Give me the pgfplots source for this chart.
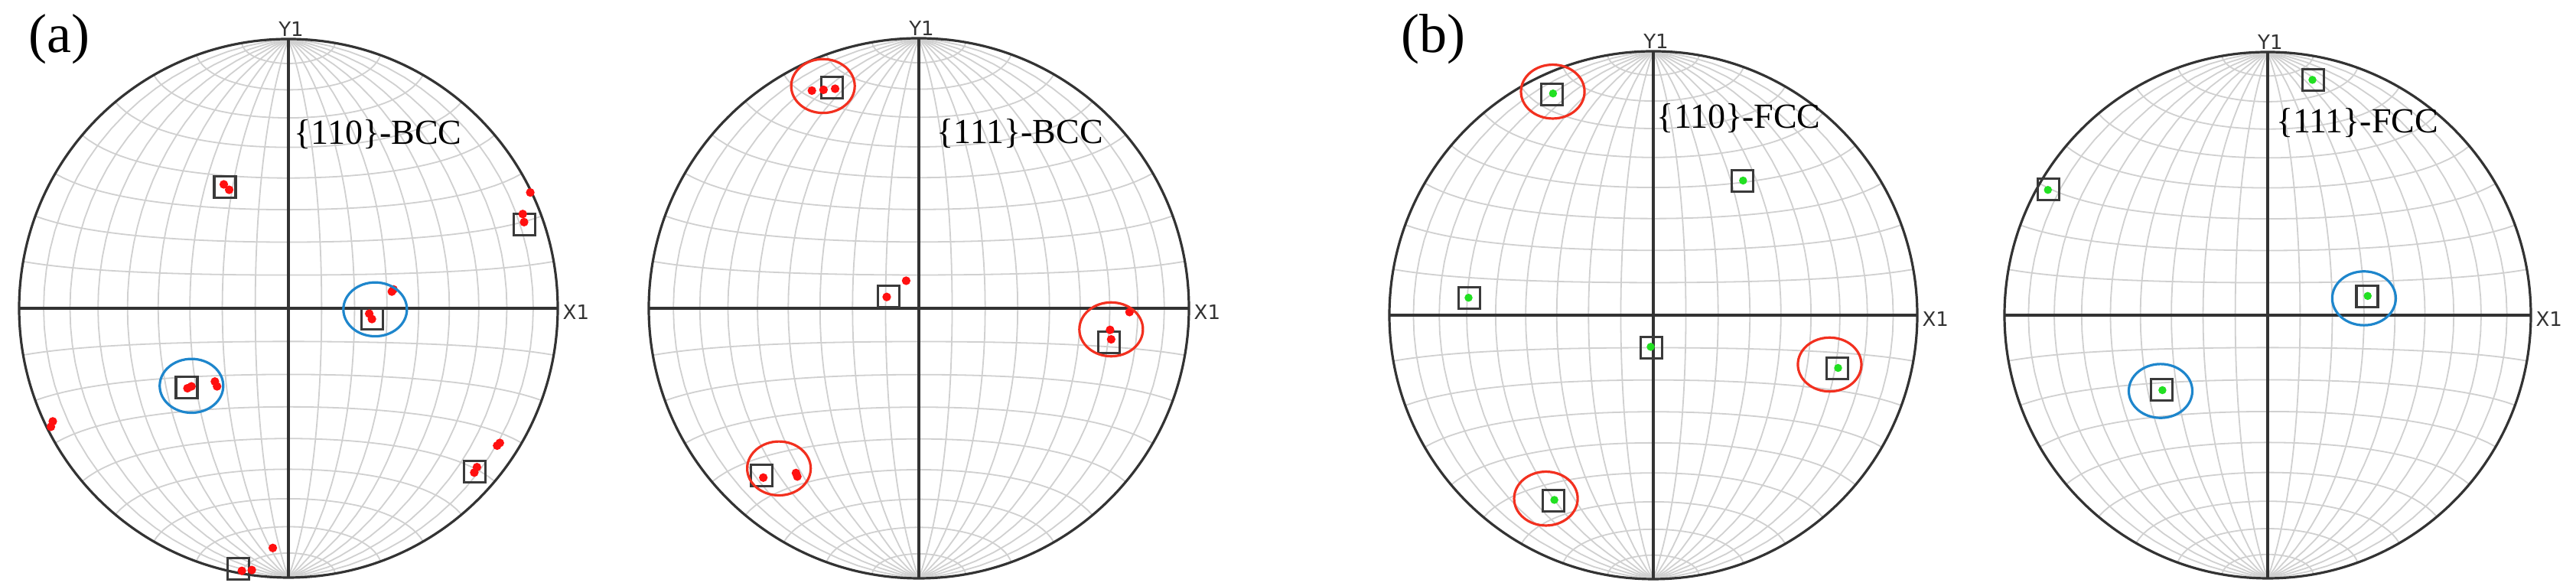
\documentclass[border=0pt]{standalone}
\usepackage{pgfplots}
\pgfplotsset{compat=1.18}
\usepackage{fontspec}
\setmainfont{Liberation Serif}
\newfontfamily\labfont{DejaVu Sans}
\definecolor{gridc}{HTML}{D0D0D0}
\definecolor{axc}{HTML}{333333}
\definecolor{sqc}{HTML}{3A3A3A}
\definecolor{ellred}{HTML}{F2301F}
\definecolor{ellblue}{HTML}{1E86CC}
\definecolor{spotred}{HTML}{FF1010}
\definecolor{spotgreen}{HTML}{22E022}

\pgfplotsset{
  pf/.style={hide axis, clip=false, xmin=-1, xmax=1, ymin=-1, ymax=1, anchor=center},
  sq/.style={only marks, mark=square, mark size=3.5pt, mark options={draw=sqc, line width=0.8pt, fill=none}},
  spotr/.style={only marks, mark=*, mark size=1.2pt, mark options={draw=spotred, fill=spotred}},
  spotg/.style={only marks, mark=*, mark size=1.1pt, mark options={draw=spotgreen, fill=spotgreen}},
  ellr/.style={only marks, mark=o, mark size=8.8pt, mark options={draw=ellred, line width=0.8pt, xscale=1.18}},
  ellb/.style={only marks, mark=o, mark size=8.8pt, mark options={draw=ellblue, line width=0.8pt, xscale=1.18}},
}

% equal-area (Schmidt) net, 10 degree spacing
\newcommand{\schmidtnet}{%
  \pgfplotsinvokeforeach{-80,-70,...,80}{%
    \addplot[gridc, line width=0.45pt, domain=-90:90, samples=41, variable=\t]
      ({cos(\t)*sin(##1)/sqrt(1+cos(\t)*cos(##1))},{sin(\t)/sqrt(1+cos(\t)*cos(##1))});
    \addplot[gridc, line width=0.45pt, domain=-90:90, samples=41, variable=\t]
      ({cos(##1)*sin(\t)/sqrt(1+cos(##1)*cos(\t))},{sin(##1)/sqrt(1+cos(##1)*cos(\t))});
  }%
  \addplot[axc, line width=0.8pt] coordinates {(-1,0) (1,0)};
  \addplot[axc, line width=0.8pt] coordinates {(0,-1) (0,1)};
  \draw[axc, line width=0.8pt] (axis cs:0,0) circle[radius=1];
  \node[anchor=south, font=\labfont\fontsize{6.5}{7}\selectfont, text=axc, inner sep=0.6pt] at (axis cs:0.01,1.0) {Y1};
  \node[anchor=west, font=\labfont\fontsize{6.5}{7}\selectfont, text=axc, inner sep=0.6pt] at (axis cs:1.01,-0.015) {X1};
}

\begin{document}
\begin{tikzpicture}
\useasboundingbox (0,0) rectangle (841.75pt,191.5pt);

% ---------- (a) {110}-BCC ----------
\begin{axis}[pf, x=88pt, y=88pt, at={(94.25pt,90.75pt)}]
\schmidtnet
\addplot[sq] coordinates {(-0.236,0.450) (0.876,0.312) (0.310,-0.039) (-0.378,-0.295) (0.691,-0.607) (-0.186,-0.967)};
\addplot[spotr] coordinates {(-0.24,0.46) (-0.22,0.44) (0.875,0.32) (0.87,0.35) (0.898,0.43)
  (0.31,-0.04) (0.30,-0.02) (0.384,0.062) (0.39,0.07)
  (-0.375,-0.297) (-0.36,-0.29) (-0.273,-0.272) (-0.265,-0.29)
  (0.69,-0.61) (0.70,-0.59) (0.775,-0.51) (0.785,-0.50)
  (-0.173,-0.975) (-0.136,-0.972) (-0.058,-0.89) (-0.882,-0.44) (-0.875,-0.42)};
\addplot[ellb] coordinates {(0.322,-0.004) (-0.36,-0.288)};
\node[anchor=west, font=\fontsize{11.5}{13}\selectfont, inner sep=0pt] at (axis cs:0.02,0.647) {\{110\}-BCC};
\node[font=\fontsize{18}{20}\selectfont, inner sep=0pt] at (axis cs:-0.852,1.0) {(a)};
\end{axis}

% ---------- {111}-BCC ----------
\begin{axis}[pf, x=88.25pt, y=88.25pt, at={(300.25pt,90.75pt)}]
\schmidtnet
\addplot[sq] coordinates {(-0.321,0.817) (-0.111,0.044) (0.705,-0.125) (-0.583,-0.618)};
\addplot[spotr] coordinates {(-0.396,0.806) (-0.353,0.809) (-0.31,0.813)
  (-0.119,0.042) (-0.047,0.102)
  (0.712,-0.115) (0.708,-0.08) (0.78,-0.014)
  (-0.576,-0.627) (-0.45,-0.623) (-0.455,-0.61)};
\addplot[ellr] coordinates {(-0.355,0.823) (0.712,-0.078) (-0.518,-0.593)};
\node[anchor=west, font=\fontsize{11.5}{13}\selectfont, inner sep=0pt] at (axis cs:0.065,0.647) {\{111\}-BCC};
\end{axis}

% ---------- (b) {110}-FCC ----------
\begin{axis}[pf, x=86.25pt, y=86.25pt, at={(540.25pt,88.5pt)}]
\schmidtnet
\addplot[sq] coordinates {(-0.384,0.837) (0.338,0.508) (-0.696,0.064) (-0.007,-0.123) (0.698,-0.201) (-0.378,-0.702)};
\addplot[spotg] coordinates {(-0.38,0.84) (0.34,0.51) (-0.70,0.066) (-0.01,-0.12) (0.70,-0.20) (-0.375,-0.70)};
\addplot[ellr] coordinates {(-0.381,0.847) (0.668,-0.187) (-0.407,-0.695)};
\node[anchor=west, font=\fontsize{11.5}{13}\selectfont, inner sep=0pt] at (axis cs:0.012,0.747) {\{110\}-FCC};
\node[font=\fontsize{18}{20}\selectfont, inner sep=0pt] at (axis cs:-0.833,1.045) {(b)};
\end{axis}

% ---------- {111}-FCC ----------
\begin{axis}[pf, x=86pt, y=86pt, at={(741pt,88.5pt)}]
\schmidtnet
\addplot[sq] coordinates {(0.172,0.894) (-0.833,0.479) (0.378,0.071) (-0.403,-0.284)};
\addplot[spotg] coordinates {(0.17,0.894) (-0.835,0.476) (0.38,0.073) (-0.40,-0.285)};
\addplot[ellb] coordinates {(0.366,0.064) (-0.407,-0.288)};
\node[anchor=west, font=\fontsize{11.5}{13}\selectfont, inner sep=0pt] at (axis cs:0.03,0.73) {\{111\}-FCC};
\end{axis}
\end{tikzpicture}
\end{document}
